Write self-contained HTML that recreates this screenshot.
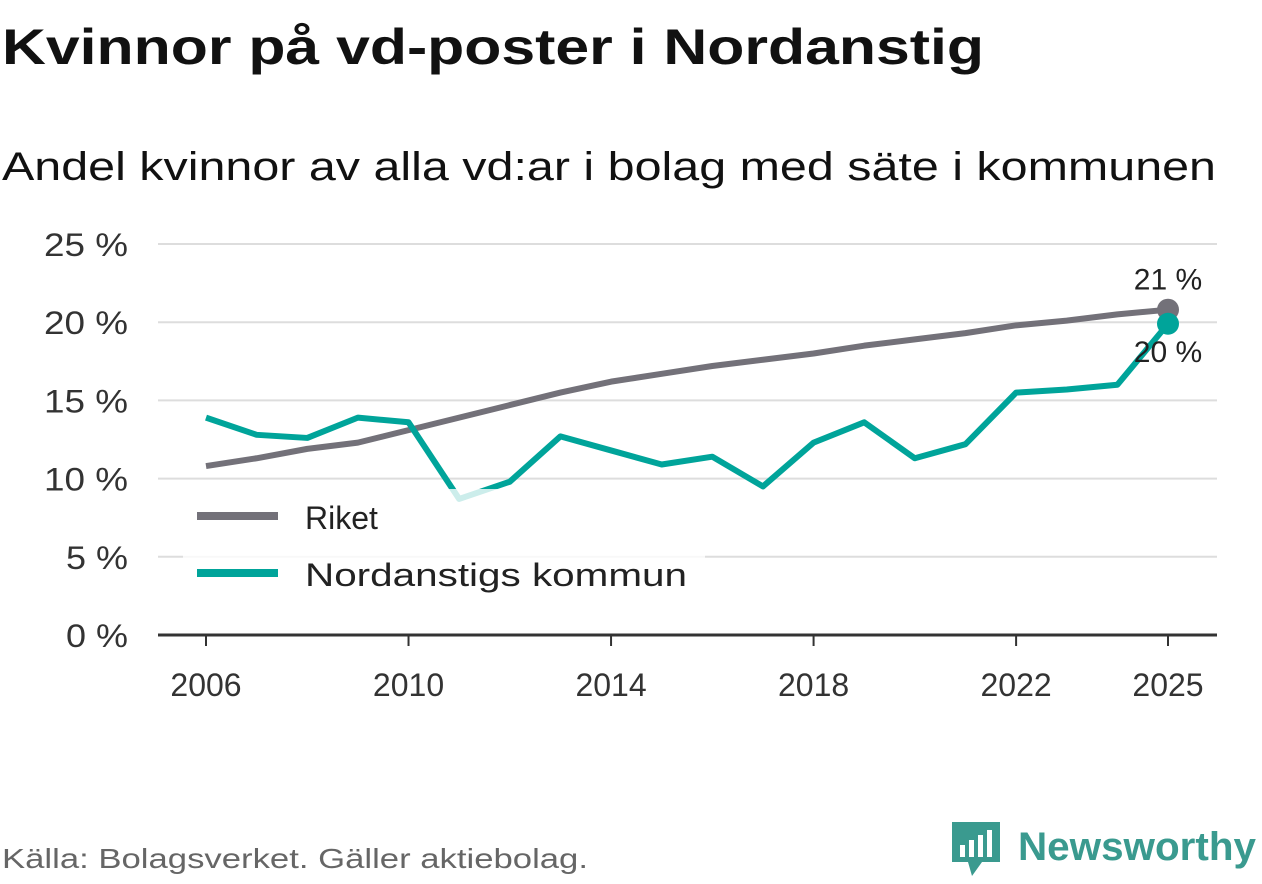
<!DOCTYPE html>
<html><head><meta charset="utf-8"><style>
body{margin:0;background:#fff;}
svg text{font-family:"Liberation Sans","DejaVu Sans",sans-serif;}
</style></head><body>
<svg id="chart" width="1262" height="879" viewBox="0 0 1262 879" xmlns="http://www.w3.org/2000/svg">
<text x="2" y="64" font-size="50" font-weight="bold" fill="#111" textLength="982" lengthAdjust="spacingAndGlyphs">Kvinnor på vd-poster i Nordanstig</text>
<text x="2" y="180" font-size="40" fill="#111" textLength="1214" lengthAdjust="spacingAndGlyphs">Andel kvinnor av alla vd:ar i bolag med säte i kommunen</text>
<g id="grid"></g><g id="xaxis"></g><g id="lines"></g>
<rect x="183" y="489" width="522" height="110" fill="#fff" fill-opacity="0.8"/>
<g>
<line x1="197" y1="516" x2="278" y2="516" stroke="#737179" stroke-width="8"/>
<text x="305" y="529" font-size="32" fill="#222">Riket</text>
<line x1="197" y1="573" x2="278" y2="573" stroke="#00a49a" stroke-width="8"/>
<text x="305" y="586" font-size="32" fill="#222" textLength="382" lengthAdjust="spacingAndGlyphs">Nordanstigs kommun</text>
</g>
<g id="labels"></g>
<text x="2" y="868" font-size="28" fill="#666" textLength="586" lengthAdjust="spacingAndGlyphs">Källa: Bolagsverket. Gäller aktiebolag.</text>
<g>
<path d="M952 822 h48 v40 h-18 l-10 14 l-4 -14 h-16 z" fill="#3a9a8f"/>
<rect x="960" y="845" width="5" height="12" fill="#fff"/><rect x="969" y="840" width="5" height="17" fill="#fff"/><rect x="978" y="835" width="5" height="22" fill="#fff"/><rect x="987" y="830" width="5" height="27" fill="#fff"/>
<text x="1018" y="860" font-size="40" font-weight="bold" fill="#3a9a8f" textLength="238" lengthAdjust="spacingAndGlyphs">Newsworthy</text>
</g>
</svg>
<script>
const years=[2006,2007,2008,2009,2010,2011,2012,2013,2014,2015,2016,2017,2018,2019,2020,2021,2022,2023,2024,2025];
const riket=[10.8,11.3,11.9,12.3,13.1,13.9,14.7,15.5,16.2,16.7,17.2,17.6,18.0,18.5,18.9,19.3,19.8,20.1,20.5,20.8];
const nordanstig=[13.9,12.8,12.6,13.9,13.6,8.7,9.8,12.7,11.8,10.9,11.4,9.5,12.3,13.6,11.3,12.2,15.5,15.7,16.0,19.9];
const yTicks=[0,5,10,15,20,25];
const xTicks=[2006,2010,2014,2018,2022,2025];
const NS="http://www.w3.org/2000/svg";
const x=v=>206+(v-2006)*(1168-206)/19;
const y=v=>635-v*15.64;
function mk(t,a,p){const e=document.createElementNS(NS,t);for(const k in a)e.setAttribute(k,a[k]);p.appendChild(e);return e;}
const grid=document.getElementById('grid');
yTicks.forEach(t=>{
 if(t>0){const l=mk('line',{x1:158,x2:1217,y1:y(t),y2:y(t),stroke:'#ddd','stroke-width':2},grid);
 
 }
 const w=t>=10?84:62;
 const tx=mk('text',{x:128,y:y(t)+12,'font-size':32,fill:'#333','text-anchor':'end',textLength:w,lengthAdjust:'spacingAndGlyphs'},grid);tx.textContent=t+' %';
 
 
});
const xa=document.getElementById('xaxis');
const base=mk('line',{x1:158,x2:1217,y1:635,y2:635,stroke:'#333','stroke-width':3},xa);


xTicks.forEach(t=>{
 mk('line',{x1:x(t),x2:x(t),y1:635,y2:646,stroke:'#333','stroke-width':2},xa);
 const tx=mk('text',{x:x(t),y:696,'font-size':32,fill:'#333','text-anchor':'middle'},xa);tx.textContent=t;
 
 
});
const lines=document.getElementById('lines');
function path(vals,col,name){
 const p=mk('polyline',{points:vals.map((v,i)=>x(years[i])+','+y(v)).join(' '),fill:'none',stroke:col,'stroke-width':6,'stroke-linejoin':'round'},lines);
 
 
 const n=vals.length-1;
 const c=mk('circle',{cx:x(years[n]),cy:y(vals[n]),r:11,fill:col},lines);
 
 
}
path(riket,'#737179','line-riket');
path(nordanstig,'#00a49a','line-nordanstig');
const lb=document.getElementById('labels');
const n=years.length-1;
const l1=mk('text',{x:x(years[n]),y:y(riket[n])-20,'font-size':30,fill:'#222','text-anchor':'middle'},lb);l1.textContent=Math.round(riket[n])+' %';


const l2=mk('text',{x:x(years[n]),y:y(nordanstig[n])+38,'font-size':30,fill:'#222','text-anchor':'middle'},lb);l2.textContent=Math.round(nordanstig[n])+' %';


</script>
</body></html>
